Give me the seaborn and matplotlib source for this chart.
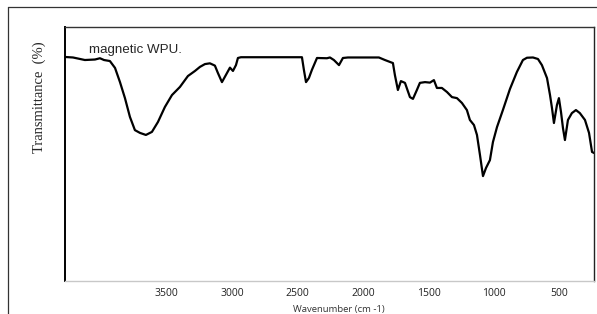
import numpy as np
import pandas as pd
import matplotlib
matplotlib.use("Agg")
import matplotlib.pyplot as plt
from matplotlib.lines import Line2D
import seaborn as sns

# FTIR spectrum of magnetic WPU
wavenumber = [4276, 4215, 4124, 4047, 4009, 3978, 3933, 3894, 3856, 3818,
              3780, 3742, 3703, 3658, 3612, 3566, 3513, 3459, 3398, 3337,
              3283, 3245, 3207, 3169, 3131, 3108, 3077, 3047, 3016, 2993,
              2970, 2955, 2932, 2466, 2451, 2435, 2413, 2390, 2351, 2275,
              2252, 2222, 2183, 2153, 2115, 1878, 1832, 1771, 1756, 1733,
              1710, 1679, 1641, 1618, 1588, 1565, 1526, 1488, 1458, 1435,
              1397, 1358, 1320, 1282, 1244, 1206, 1183, 1152, 1129, 1106,
              1083, 1060, 1030, 1007, 976, 931, 877, 824, 778, 747,
              701, 663, 633, 594, 571, 556, 541, 518, 503, 487,
              472, 457, 434, 404, 373, 343, 304, 273, 250, 235]
transmittance = [88.2, 88.0, 87.0, 87.2, 87.7, 87.0, 86.6, 83.9, 78.3, 72.0,
                 64.6, 59.4, 58.3, 57.5, 58.7, 62.6, 68.5, 73.2, 76.4, 80.7,
                 82.7, 84.3, 85.4, 85.7, 84.8, 81.9, 78.3, 81.1, 84.0, 82.7,
                 85.0, 87.8, 88.1, 88.1, 83.1, 78.3, 79.9, 83.1, 87.8, 87.7,
                 88.0, 87.0, 85.0, 87.8, 88.0, 88.0, 87.0, 85.8, 81.1, 75.2,
                 78.7, 78.0, 72.4, 71.7, 75.2, 78.0, 78.3, 78.1, 79.1, 76.0,
                 76.0, 74.4, 72.4, 72.0, 70.1, 67.3, 63.4, 61.4, 57.5, 49.6,
                 41.3, 44.5, 47.6, 54.7, 60.6, 67.3, 75.6, 82.3, 87.0, 87.9,
                 88.0, 87.4, 85.0, 79.9, 73.2, 68.1, 62.2, 69.3, 72.0, 66.5,
                 60.2, 55.5, 63.4, 66.1, 67.3, 66.1, 63.4, 58.3, 50.8, 50.4]
tick_values = [3500, 3000, 2500, 2000, 1500, 1000, 500]
tick_labels = ["3500", "3000", "2500", "2000", "1500", "1000", "500"]
minor_ticks = [4000, 2560, 2200, 400]
series_label = "magnetic WPU."

sns.set_style("white")
plt.rcParams["font.family"] = ["Open Sans", "DejaVu Sans"]

df = pd.DataFrame({"Wavenumber": wavenumber, "Transmittance": transmittance})

fig = plt.figure(figsize=(5.97, 3.14), dpi=100)
ax = fig.add_axes([65 / 597, 1 - 281 / 314, (594 - 65) / 597, (281 - 27) / 314])

sns.lineplot(data=df, x="Wavenumber", y="Transmittance", ax=ax,
             color="black", linewidth=1.6, sort=False, estimator=None)

ax.set_xlim(4276, 235)
ax.set_ylim(0, 100)
ax.set_xticks(tick_values)
ax.set_xticklabels(tick_labels, fontsize=7.5, color="#222222")
ax.set_xticks(minor_ticks, minor=True)
ax.set_yticks([])
ax.tick_params(axis="x", which="major", direction="inout", length=5, width=0.8,
               color="#555555", pad=2.5)
ax.tick_params(axis="x", which="minor", direction="out", length=1.5, width=0.8,
               color="#aaaaaa")

ax.set_xlabel("Wavenumber (cm -1)", fontsize=6.8, labelpad=1, color="#333333")
ax.xaxis.set_label_coords(0.517, -0.093)
ax.set_ylabel("Transmittance  (%)", fontsize=10.5, family=["Liberation Serif"])
ax.yaxis.set_label_coords(-0.036, 0.724)

for side, lw, col in [("left", 1.4, "black"), ("top", 1.0, "#333333"),
                      ("right", 1.0, "#222222"), ("bottom", 1.0, "#c8c8c8")]:
    ax.spines[side].set_visible(True)
    ax.spines[side].set_linewidth(lw)
    ax.spines[side].set_color(col)

ax.text(0.045, 0.935, series_label, transform=ax.transAxes, fontsize=9.6,
        family=["Liberation Sans"], va="top", ha="left")

# outer frame
fig.add_artist(Line2D([8 / 597, 1.0], [1 - 7 / 314, 1 - 7 / 314],
                      transform=fig.transFigure, color="#333333", lw=0.9))
fig.add_artist(Line2D([8 / 597, 8 / 597], [0, 1 - 7 / 314],
                      transform=fig.transFigure, color="#333333", lw=0.9))

fig.savefig("out.png", dpi=100, facecolor="white")
